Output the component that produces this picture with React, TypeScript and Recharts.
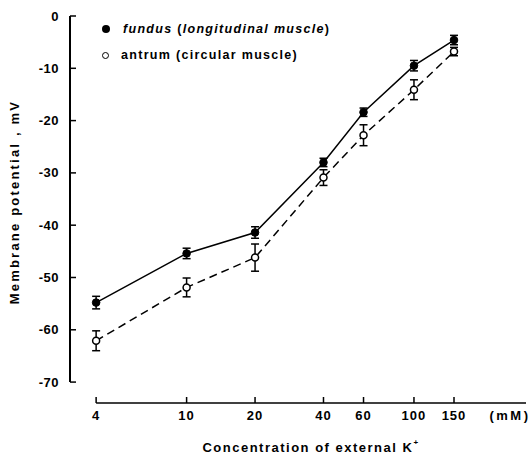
import { LineChart, Line, XAxis, YAxis, ErrorBar, ReferenceLine } from "recharts";

const concentrations = [4, 10, 20, 40, 60, 100, 150];
const fundus = [-54.8, -45.4, -41.4, -28.0, -18.4, -9.5, -4.6];
const fundusErr = [1.2, 1.0, 1.1, 0.8, 0.8, 1.0, 0.9];
const antrum = [-62.1, -51.9, -46.2, -30.9, -22.8, -14.1, -6.8];
const antrumErr = [1.9, 1.8, 2.6, 1.5, 2.0, 1.9, 0.8];
const yTicks = [0, -10, -20, -30, -40, -50, -60, -70];

const data = concentrations.map((c, i) => ({
  conc: c,
  fundus: fundus[i],
  fundusErr: fundusErr[i],
  antrum: antrum[i],
  antrumErr: antrumErr[i],
}));

const FONT = "'Liberation Sans', Arial, sans-serif";
const X_MIN = 3.07;
const X_MAX = 311;
const Y_MIN = -74;

function XTick({ x, y, payload }: any) {
  return (
    <g>
      <line x1={x} y1={y} x2={x} y2={y - 6} stroke="#000" strokeWidth={1.5} />
      <text x={x} y={y + 12} textAnchor="middle" dominantBaseline="central" fontSize={13} letterSpacing={1} fontWeight={700} fontFamily={FONT} fill="#000">
        {payload.value}
      </text>
    </g>
  );
}

function YTick({ x, y, payload }: any) {
  return (
    <g>
      <line x1={x} y1={y} x2={x + 6} y2={y} stroke="#000" strokeWidth={1.5} />
      <text x={x - 11} y={y} textAnchor="end" dominantBaseline="central" fontSize={13} letterSpacing={0.5} fontWeight={700} fontFamily={FONT} fill="#000">
        {payload.value}
      </text>
    </g>
  );
}

function XTitle({ viewBox }: any) {
  const { x, y, width } = viewBox;
  return (
    <g fontFamily={FONT} fontWeight={700} fill="#000">
      <text x={x + 241} y={y + 44} textAnchor="middle" dominantBaseline="central" fontSize={13} letterSpacing={1.5}>
        Concentration of external K<tspan dy={-5} fontSize={8}>+</tspan>
      </text>
      <text x={x + width - 16} y={y + 12} textAnchor="middle" dominantBaseline="central" fontSize={13} letterSpacing={2.5}>
        (mM)
      </text>
    </g>
  );
}

function YTitle({ viewBox }: any) {
  const cx = viewBox.x + 14;
  const cy = 202;
  return (
    <text x={cx} y={cy} transform={`rotate(-90 ${cx} ${cy})`} textAnchor="middle" dominantBaseline="central" fontFamily={FONT} fontWeight={700} fontSize={13} letterSpacing={2.2} fill="#000">
      Membrane potential , mV
    </text>
  );
}

function OpenDot({ cx, cy }: any) {
  return <circle cx={cx} cy={cy} r={3.5} fill="#fff" stroke="#000" strokeWidth={1.5} />;
}

function FilledDot({ cx, cy }: any) {
  return <circle cx={cx} cy={cy} r={3.8} fill="#000" stroke="#000" strokeWidth={1} />;
}

export default function App() {
  const legendText = { fontFamily: FONT, fontWeight: 700, fontSize: 12.5, letterSpacing: 1.3, color: "#000" };
  return (
    <div style={{ position: "absolute", left: 0, top: 0, width: 532, height: 462, background: "#fff" }}>
      <LineChart width={532} height={462} data={data} margin={{ top: 16, left: 0, right: 6, bottom: 0 }}>
        <XAxis
          dataKey="conc"
          type="number"
          scale="log"
          domain={[X_MIN, X_MAX]}
          ticks={concentrations}
          allowDataOverflow
          height={59}
          axisLine={false}
          tickLine={false}
          tickSize={0}
          tickMargin={0}
          tick={<XTick />}
          interval={0}
          label={{ content: <XTitle /> }}
        />
        <YAxis
          type="number"
          domain={[Y_MIN, 0]}
          ticks={yTicks}
          allowDataOverflow
          width={70}
          axisLine={false}
          tickLine={false}
          tickSize={0}
          tickMargin={0}
          tick={<YTick />}
          interval={0}
          label={{ content: <YTitle /> }}
        />
        <ReferenceLine segment={[{ x: X_MIN, y: 0 }, { x: X_MIN, y: -70 }]} stroke="#000" strokeWidth={2} ifOverflow="visible" />
        <ReferenceLine segment={[{ x: 4, y: Y_MIN }, { x: X_MAX, y: Y_MIN }]} stroke="#000" strokeWidth={1.5} ifOverflow="visible" />
        <Line dataKey="antrum" stroke="#000" strokeWidth={1.5} strokeDasharray="8 5" dot={<OpenDot />} isAnimationActive={false}>
          <ErrorBar dataKey="antrumErr" width={4} stroke="#000" strokeWidth={1.5} direction="y" />
        </Line>
        <Line dataKey="fundus" stroke="#000" strokeWidth={1.5} dot={<FilledDot />} isAnimationActive={false}>
          <ErrorBar dataKey="fundusErr" width={4} stroke="#000" strokeWidth={1.5} direction="y" />
        </Line>
      </LineChart>
      <div style={{ position: "absolute", left: 102, top: 16, lineHeight: "26px", ...legendText }}>
        <div>
          <span style={{ display: "inline-block", width: 8, height: 8, borderRadius: 4, background: "#000", marginRight: 13 }} />
          <i>fundus</i> (<i>longitudinal muscle</i>)
        </div>
        <div>
          <span style={{ display: "inline-block", width: 5, height: 5, borderRadius: 4, border: "1.5px solid #000", marginRight: 12 }} />
          antrum (circular muscle)
        </div>
      </div>
    </div>
  );
}
